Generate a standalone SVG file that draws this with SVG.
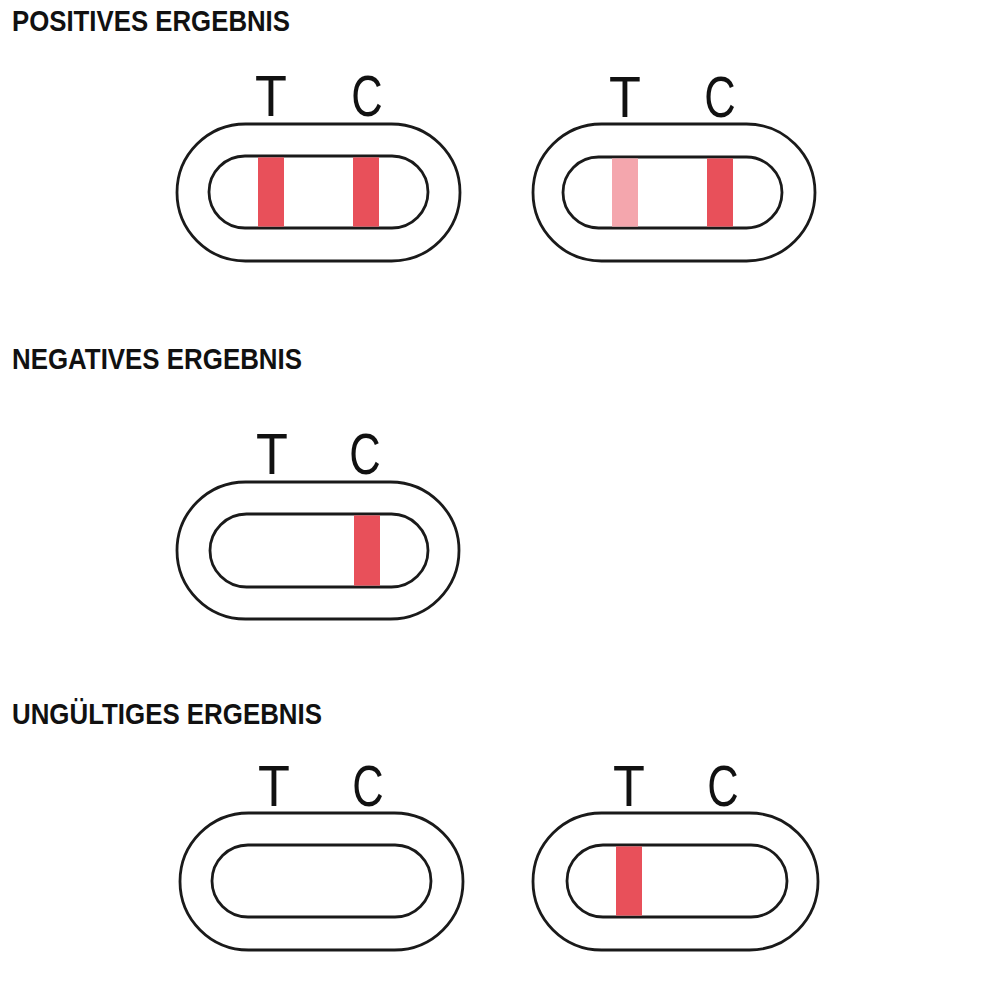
<svg xmlns="http://www.w3.org/2000/svg" width="1000" height="1000" viewBox="0 0 1000 1000">
<style>
.bg{fill:#ffffff}
.outer{fill:#ffffff;stroke:#1a1a1a;stroke-width:2.8}
.inner{fill:#ffffff;stroke:#1a1a1a;stroke-width:2.8}
.band{fill:#E8505A}
.faint{fill:#F4A6AD}
.head{font-family:"Liberation Sans","Open Sans",sans-serif;font-weight:bold;font-size:30px;fill:#111111}
.lbl{font-family:"Liberation Sans","DejaVu Sans",sans-serif;font-size:58px;fill:#111111;text-anchor:middle}
</style>
<rect class="bg" x="0" y="0" width="1000" height="1000"/>

<g id="headings">
<text class="head" x="12" y="31" textLength="278" lengthAdjust="spacingAndGlyphs">POSITIVES ERGEBNIS</text>
<text class="head" x="12" y="369" textLength="290" lengthAdjust="spacingAndGlyphs">NEGATIVES ERGEBNIS</text>
<text class="head" x="12" y="724" textLength="310" lengthAdjust="spacingAndGlyphs">UNGÜLTIGES ERGEBNIS</text>
</g>

<g id="positive-1">
<rect class="outer" x="177" y="124" width="283" height="137" rx="68.5"/>
<rect class="inner" x="209" y="156" width="219" height="72" rx="36"/>
<rect class="band" x="258" y="157.4" width="26" height="69.2"/>
<rect class="band" x="353" y="157.4" width="26" height="69.2"/>
<text class="lbl" x="271" y="116" transform="translate(271,0) scale(0.9,1) translate(-271,0)">T</text>
<text class="lbl" x="367" y="116" transform="translate(367,0) scale(0.75,1) translate(-367,0)">C</text>
</g>

<g id="positive-2">
<rect class="outer" x="533" y="124" width="282" height="137" rx="68.5"/>
<rect class="inner" x="563" y="157" width="219" height="71" rx="35.5"/>
<rect class="faint" x="612" y="158.4" width="26" height="68.2"/>
<rect class="band" x="707" y="158.4" width="26" height="68.2"/>
<text class="lbl" x="625" y="117" transform="translate(625,0) scale(0.9,1) translate(-625,0)">T</text>
<text class="lbl" x="720" y="117" transform="translate(720,0) scale(0.75,1) translate(-720,0)">C</text>
</g>

<g id="negative">
<rect class="outer" x="177" y="482" width="282" height="137" rx="68.5"/>
<rect class="inner" x="210" y="514" width="218" height="73" rx="36.5"/>
<rect class="band" x="354" y="515.4" width="26" height="70.2"/>
<text class="lbl" x="272" y="474" transform="translate(272,0) scale(0.9,1) translate(-272,0)">T</text>
<text class="lbl" x="365" y="474" transform="translate(365,0) scale(0.75,1) translate(-365,0)">C</text>
</g>

<g id="invalid-1">
<rect class="outer" x="180" y="813" width="283" height="137" rx="68.5"/>
<rect class="inner" x="212" y="845" width="219" height="72" rx="36"/>
<text class="lbl" x="274" y="806" transform="translate(274,0) scale(0.9,1) translate(-274,0)">T</text>
<text class="lbl" x="368" y="806" transform="translate(368,0) scale(0.75,1) translate(-368,0)">C</text>
</g>

<g id="invalid-2">
<rect class="outer" x="533" y="813" width="285" height="137" rx="68.5"/>
<rect class="inner" x="567" y="845" width="220" height="72" rx="36"/>
<rect class="band" x="616" y="846.4" width="26" height="69.2"/>
<text class="lbl" x="629" y="806" transform="translate(629,0) scale(0.9,1) translate(-629,0)">T</text>
<text class="lbl" x="723" y="806" transform="translate(723,0) scale(0.75,1) translate(-723,0)">C</text>
</g>

<g id="connectors"></g>
</svg>
